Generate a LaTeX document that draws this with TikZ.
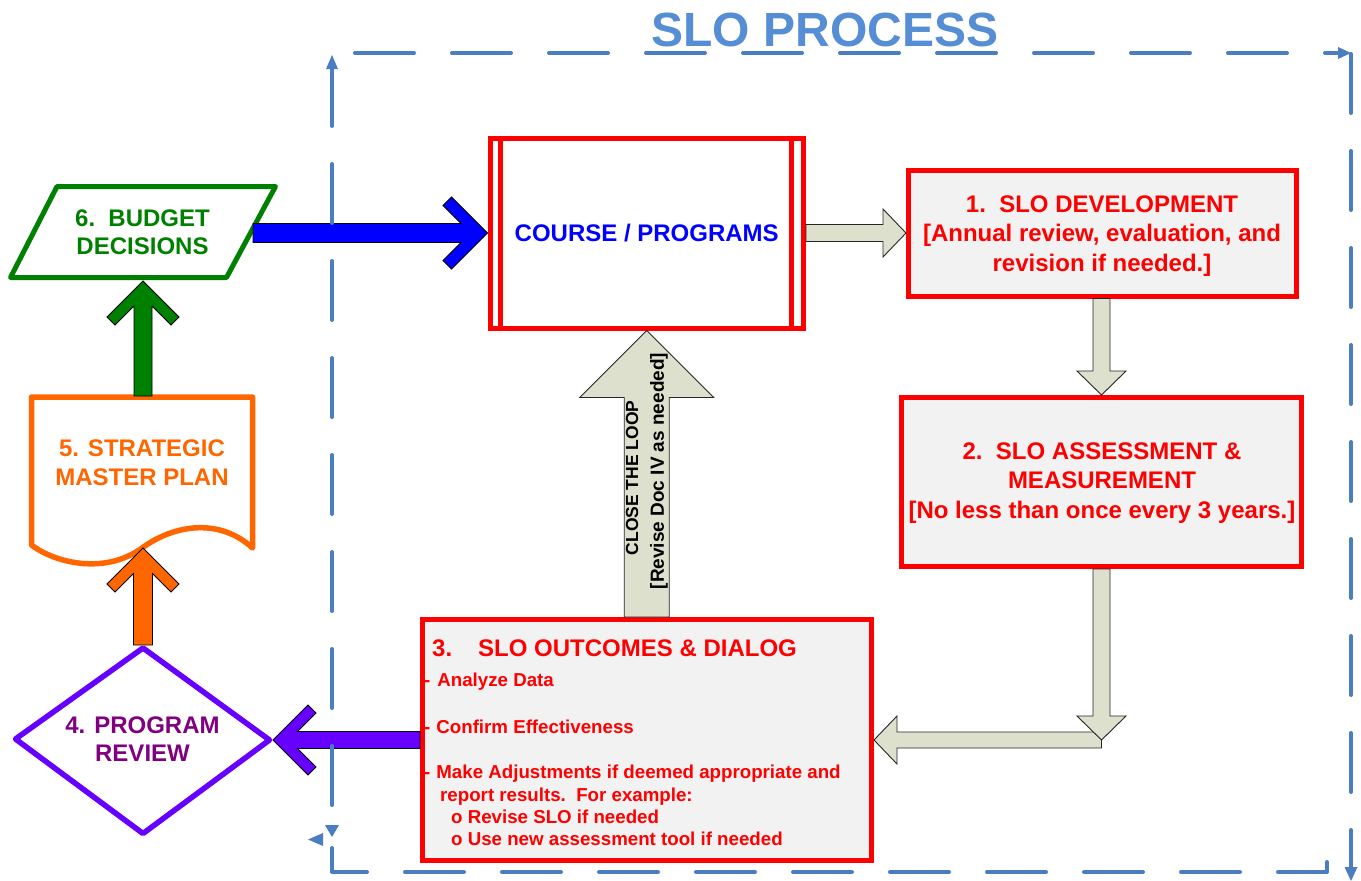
\documentclass[tikz,border=0pt]{standalone}
\usepackage{fontspec}
\setmainfont{Liberation Sans}
\usetikzlibrary{calc}

\definecolor{framebl}{RGB}{74,126,193}
\definecolor{titlebl}{RGB}{85,142,213}
\definecolor{boxred}{RGB}{255,0,0}
\definecolor{boxfill}{RGB}{242,242,242}
\definecolor{khaki}{RGB}{221,224,204}
\definecolor{budgetgreen}{RGB}{0,128,0}
\definecolor{planorange}{RGB}{255,102,0}
\definecolor{reviewviolet}{RGB}{102,0,255}
\definecolor{reviewtext}{RGB}{128,0,128}
\definecolor{arrowblue}{RGB}{0,0,255}

\newcommand\bfsize[2]{\fontsize{#1}{#2}\selectfont\bfseries}

% straight block arrow with a triangular head:
% style, from, to, shaft half width, head half width, head length
\newcommand\blockarrow[6]{%
  \path (#2) coordinate (ba-a) (#3) coordinate (ba-b)
        ($(ba-b)!#6pt!(ba-a)$) coordinate (ba-h);
  \draw[#1] ($(ba-a)!#4pt!90:(ba-b)$) -- ($(ba-h)!#4pt!-90:(ba-a)$)
     -- ($(ba-h)!#5pt!-90:(ba-a)$) -- (ba-b)
     -- ($(ba-h)!#5pt!90:(ba-a)$) -- ($(ba-h)!#4pt!90:(ba-a)$)
     -- ($(ba-a)!#4pt!-90:(ba-b)$) -- cycle;}

% arrow with an open chevron head:
% style, from, to, shaft half width, arm thickness, arm reach
\newcommand\chevronarrow[6]{%
  \pgfmathsetmacro\chvA{#6+#5/2}%
  \pgfmathsetmacro\chvB{#6-#5/2}%
  \pgfmathsetmacro\chvC{#5+#4}%
  \path (#2) coordinate (cv-a) (#3) coordinate (cv-b)
        ($(cv-b)!#6pt!(cv-a)$) coordinate (cv-1)
        ($(cv-b)!\chvA pt!(cv-a)$) coordinate (cv-2)
        ($(cv-b)!\chvC pt!(cv-a)$) coordinate (cv-3);
  \draw[#1] (cv-b) -- ($(cv-1)!#6pt!90:(cv-b)$) -- ($(cv-2)!\chvB pt!90:(cv-b)$)
     -- ($(cv-3)!#4pt!90:(cv-b)$) -- ($(cv-a)!#4pt!90:(cv-b)$)
     -- ($(cv-a)!#4pt!-90:(cv-b)$) -- ($(cv-3)!#4pt!-90:(cv-b)$)
     -- ($(cv-2)!\chvB pt!-90:(cv-b)$) -- ($(cv-1)!#6pt!-90:(cv-b)$) -- cycle;}

\tikzset{
  redbox/.style={rectangle, draw=boxred, line width=5pt, fill=boxfill,
    inner sep=0pt, outer sep=2.5pt},
  coursebox/.style={redbox, fill=white, text=arrowblue, font=\bfsize{24}{28}},
  boxtext/.style={inner sep=0pt, align=center, text=boxred, font=\bfsize{24}{29.5}},
  listtext/.style={inner sep=0pt, anchor=base west, text=boxred, font=\bfsize{18.7}{22}},
  shapetext/.style={inner sep=0pt, align=center, font=\bfsize{24}{28}},
  khakiarrow/.style={fill=khaki, draw=black!85, line width=0.9pt, line join=miter},
  chevron/.style={draw=black, line width=0.8pt, line join=miter},
  framed/.style={draw=framebl, line width=4pt, line cap=round, line join=round,
    dash pattern=on 59pt off 38pt},
  frametip/.style={fill=framebl},
}

\begin{document}
\begin{tikzpicture}[x=1pt, y=-1pt]
\useasboundingbox (0,0) rectangle (1361,881);
\fill[white] (0,0) rectangle (1361,881);

% ---- process boxes
\node[redbox, minimum width=387.5pt, minimum height=126pt] (dev) at (1102.25,233) {};
\node[redbox, minimum width=400pt, minimum height=169pt] (assess) at (1101.5,482) {};
\node[redbox, minimum width=449pt, minimum height=241pt] (outc) at (647,740) {};
\node[coursebox, minimum width=313.5pt, minimum height=190pt] (course) at (646.75,233) {COURSE / PROGRAMS};
\draw[boxred, line width=5pt] ([xshift=13pt]course.north west) -- ([xshift=13pt]course.south west);
\draw[boxred, line width=5pt] ([xshift=-14.25pt]course.north east) -- ([xshift=-14.25pt]course.south east);

% ---- left-hand shapes
\draw[budgetgreen, line width=5pt, line join=round]
  (57,186.5) -- (275.5,186.5) -- (226.5,277.5) -- (10.5,277.5) -- cycle;
\draw[planorange, line width=5.5pt, line join=round]
  (31.5,545) -- (31.5,397) -- (252.5,397) -- (252.5,548)
  .. controls (220,518) and (175,524) .. (142,548)
  .. controls (105,575) and (55,563) .. (31.5,545) -- cycle;
\draw[reviewviolet, line width=5.5pt, line join=round]
  (143,648) -- (269.5,740) -- (143,833.5) -- (15.5,739) -- cycle;

\coordinate (budget-e) at (253,233);
\coordinate (budget-s) at (143,281);
\coordinate (plan-n) at (143,396);
\coordinate (plan-s) at (143,548);
\coordinate (review-n) at (143,645);
\coordinate (review-e) at (273,740);
\coordinate (bend) at (assess.south |- outc.east);

% ---- block arrows of the SLO cycle
\blockarrow{khakiarrow}{course.east}{dev.west}{8.5}{24}{23}
\blockarrow{khakiarrow}{dev.south -| assess.north}{assess.north}{8.5}{24.5}{24}
\blockarrow{khakiarrow}{bend}{outc.east}{8}{24}{23}
\blockarrow{khakiarrow}{assess.south}{bend}{8.5}{24.5}{24}
\blockarrow{khakiarrow}{outc.north -| course.south}{course.south}{22.5}{67}{67}

% ---- chevron arrows of the planning loop
\chevronarrow{chevron, fill=arrowblue}{budget-e}{course.west}{9.5}{17}{36}
\chevronarrow{chevron, fill=budgetgreen}{plan-n}{budget-s}{9}{16}{36}
\chevronarrow{chevron, fill=planorange}{review-n}{plan-s}{9.5}{16}{36}
\chevronarrow{chevron, fill=reviewviolet}{outc.west}{review-e}{8.5}{16}{35}

% ---- texts
\node[font=\bfsize{48}{56}, text=titlebl, inner sep=0pt] (title) at (825,30) {SLO PROCESS};
\node[boxtext] (dev-text) at (1102,236)
  {1.\ \ SLO DEVELOPMENT\\{}[Annual review, evaluation, and\\revision if needed.]};
\node[boxtext] (assess-text) at (1102,483)
  {2.\ \ SLO ASSESSMENT \&\\MEASUREMENT\\{}[No less than once every 3 years.]};
\node[listtext, font=\bfsize{24}{28}] (outc-title) at (432,656.6) {3.\hspace{26pt}SLO OUTCOMES \& DIALOG};
\node[listtext] (item-a) at (424,686.6) {-\hspace{7pt}Analyze Data};
\node[listtext] (item-b) at (424,733.6) {-\hspace{6pt}Confirm Effectiveness};
\node[listtext] (item-c) at (424,778.6) {-\hspace{6pt}Make Adjustments if deemed appropriate and};
\node[listtext] (item-c2) at (440,801.6) {report results.\ \ For example:};
\node[listtext] (item-d) at (451,823.6) {o Revise SLO if needed};
\node[listtext] (item-e) at (451,845.6) {o Use new assessment tool if needed};
\node[font=\bfsize{17.5}{20}, rotate=90, inner sep=0pt] (loop-a) at (632,478) {CLOSE THE LOOP};
\node[font=\bfsize{19}{22}, rotate=90, inner sep=0pt] (loop-b) at (659,471) {[Revise Doc IV as needed]};
\node[shapetext, text=budgetgreen] (budget) at (142.5,232) {6.\ \ BUDGET\\DECISIONS};
\node[shapetext, text=planorange, font=\bfsize{24}{29}] (plan) at (142,462.5) {5. STRATEGIC\\MASTER PLAN};
\node[shapetext, text=reviewtext] (review) at (142.5,739) {4. PROGRAM\\REVIEW};

% ---- dashed process frame
\coordinate (top-a) at (333,53);   \coordinate (top-b) at (1340,53);
\coordinate (right-a) at (1351,54); \coordinate (right-b) at (1351,868);
\coordinate (left-a) at (332,805);  \coordinate (left-b) at (332,68);
\draw[framed, dash phase=75pt] (top-a) -- (top-b);
\fill[frametip] (1338,47) -- (1351,53) -- (1338,59) -- cycle;
\draw[framed] (right-a) -- (right-b);
\fill[frametip] (1344.5,867) -- (1351,881) -- (1357.5,867) -- cycle;
\draw[framed] (left-a) -- (left-b);
\fill[frametip] (326,69) -- (332,55) -- (338,69) -- cycle;
\draw[framed] (1327,862) -- (1327,872) -- (332,872) -- (332,847);
\fill[frametip] (325,825) -- (339,825) -- (332,837) -- cycle;
\fill[frametip] (323,833) -- (323,846) -- (308,839.5) -- cycle;
\end{tikzpicture}
\end{document}
